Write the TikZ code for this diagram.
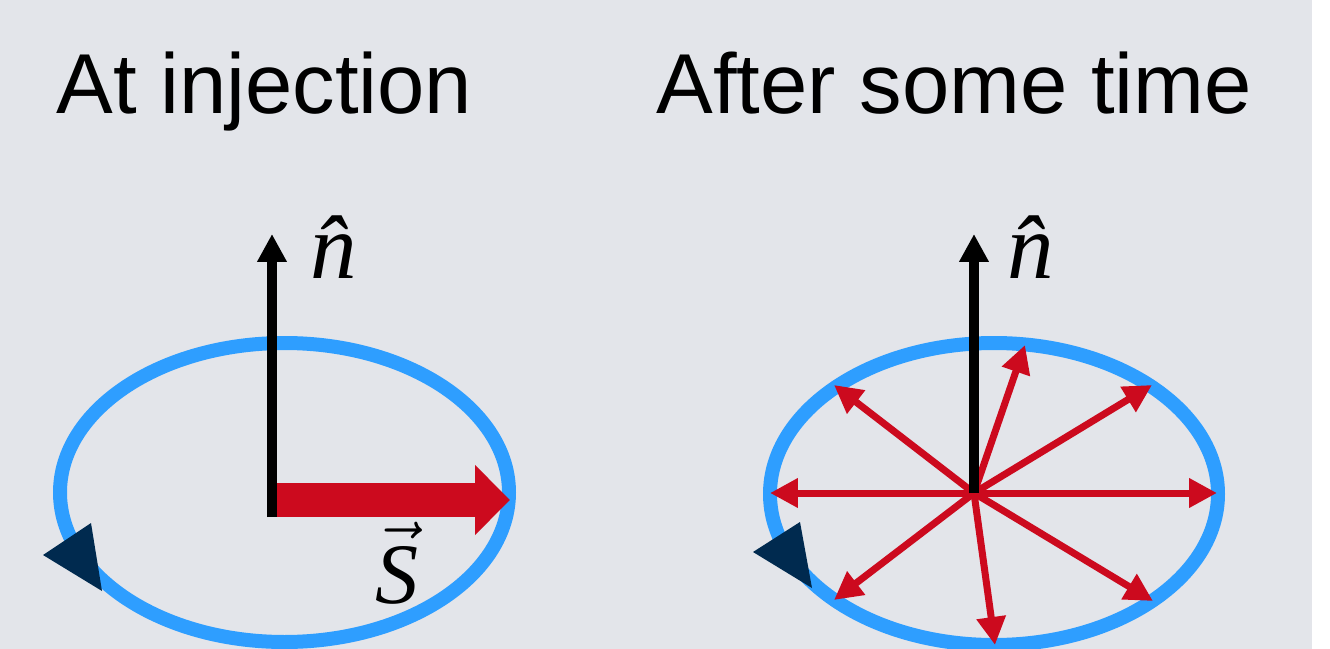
\RequirePackage{fix-cm}
\documentclass[tikz,border=0pt]{standalone}
\usepackage{fontspec}
\setmainfont{Liberation Sans}
\newfontfamily\labelfont{Liberation Serif}
\usepackage{xcolor}
\definecolor{panel}{HTML}{E3E5EA}
\definecolor{orbit}{HTML}{2E9EFF}
\definecolor{spin}{HTML}{CC0A1E}
\definecolor{navy}{HTML}{002A4F}
\usetikzlibrary{arrows.meta}

\begin{document}
\begin{tikzpicture}[x=0.02cm, y=-0.02cm,
  title/.style={font=\fontsize{48.4}{58}\selectfont, anchor=base west, inner sep=0pt},
  ring/.style={draw=orbit, line width=0.28cm},
  normal/.style={draw=black, line width=0.2cm, -{Triangle[length=0.56cm, width=0.56cm]}},
  bigspin/.style={draw=spin, line width=0.68cm, -{Triangle[length=0.7cm, width=1.36cm]}},
  spinvec/.style={draw=spin, line width=0.14cm, -{Triangle[length=0.56cm, width=0.56cm]}},
  sense/.style={fill=navy},
  nlabel/.style={font=\fontsize{53}{60}\labelfont\itshape, inner sep=0pt},
  slabel/.style={font=\fontsize{49}{52}\labelfont\itshape, inner sep=0pt}
]
  \useasboundingbox (0,0) rectangle (1330,649);
  \fill[white] (0,0) rectangle (1330,649);
  \fill[panel] (0,0) rectangle (1312,649);

  \node[title] (titleL) at (56,113) {At injection};
  \node[title] (titleR) at (656,113) {After some time};

  % at injection
  \coordinate (centreL) at (284.5,492.5);
  \draw[ring] (centreL) ellipse [x radius=224.5, y radius=149.5];
  \fill[sense] (43,555) -- (91,523) -- (102,591) -- cycle;
  \coordinate (baseL) at (272,500);
  \coordinate (footL) at (272,517);
  \coordinate (tipL) at (272,234);
  \coordinate (spinL) at (510,500);
  \draw[bigspin] (baseL) -- (spinL);
  \draw[normal] (footL) -- (tipL);
  \node[nlabel] (nhatL) at (334,247) {\^{n}};
  \node[slabel] (svec) at (397,563) {$\vec{\mbox{S}}$};

  % after some time
  \coordinate (centreR) at (994,494);
  \draw[ring] (centreR) ellipse [x radius=224, y radius=151];
  \fill[sense] (753,552) -- (800,522) -- (812,588) -- cycle;
  \coordinate (hubR) at (974,493);
  \coordinate (tipR) at (974,234);
  \foreach \px/\py in {1217/493, 770/493, 1025/345, 1152/385,
                       834/385, 834/600, 995/645, 1153/601}
    \draw[spinvec] (hubR) -- (\px,\py);
  \draw[normal] (hubR) -- (tipR);
  \node[nlabel] (nhatR) at (1031,247) {\^{n}};
\end{tikzpicture}
\end{document}
